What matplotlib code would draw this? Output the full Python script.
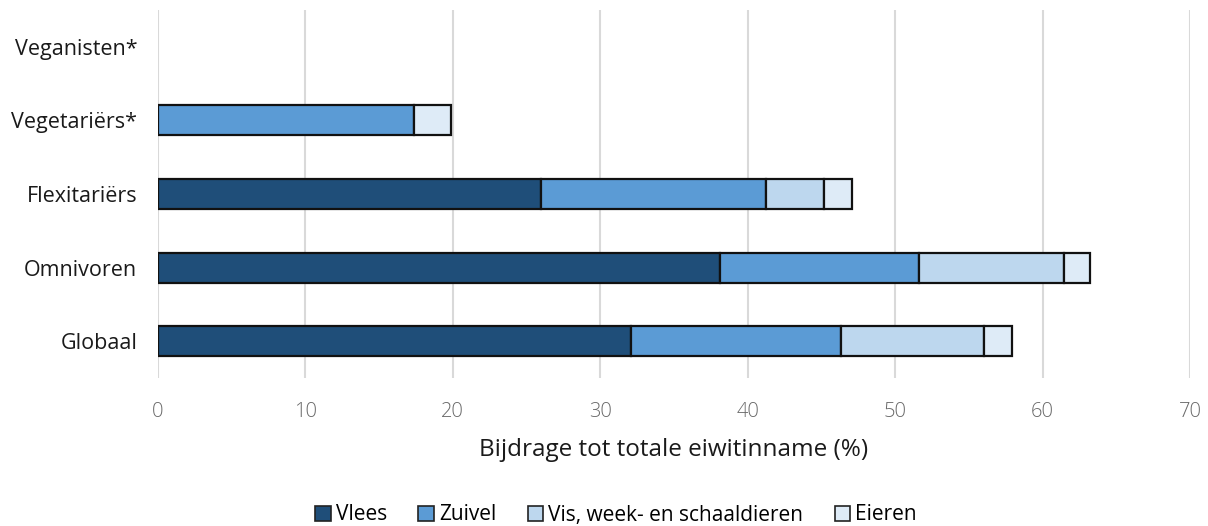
import matplotlib
matplotlib.use("Agg")
import matplotlib.pyplot as plt
import numpy as np
from matplotlib.patches import Patch

categories = ["Veganisten*", "Vegetariërs*", "Flexitariërs", "Omnivoren", "Globaal"]
series_names = ["Vlees", "Zuivel", "Vis, week- en schaaldieren", "Eieren"]
vlees = [0, 0, 25.96, 38.14, 32.07]
zuivel = [0, 17.34, 15.31, 13.45, 14.28]
vis = [0, 0, 3.89, 9.88, 9.69]
eieren = [0, 2.52, 1.91, 1.73, 1.86]
colors = ["#1F4E79", "#5B9BD5", "#BDD7EE", "#DEEBF7"]
xticks = [0, 10, 20, 30, 40, 50, 60, 70]

plt.rcParams['font.family'] = ['Open Sans', 'DejaVu Sans']

fig = plt.figure(figsize=(12.08, 5.26), dpi=100)
ax = fig.add_axes([158/1208, 1 - 378/526, (1190-158)/1208, (378-10)/526])

y = np.arange(len(categories))
left = np.zeros(len(categories))
for vals, name, c in zip([vlees, zuivel, vis, eieren], series_names, colors):
    v = np.array(vals, dtype=float)
    mask = v > 0
    ax.barh(y[mask], v[mask], left=left[mask], height=0.41, color=c,
            edgecolor="#111111", linewidth=1.6, zorder=3)
    left += v

ax.set_ylim(len(categories) - 0.5, -0.5)
ax.set_yticks(y)
ax.set_yticklabels(categories, fontsize=15.5, color="#1a1a1a")
ax.set_xlim(0, 70)
ax.set_xticks(xticks)
ax.set_xticklabels([str(t) for t in xticks], fontsize=14.5, color="#6a6a6a", fontweight="light")
ax.tick_params(axis="both", length=0)
ax.tick_params(axis="x", pad=17)
ax.tick_params(axis="y", pad=15)
for s in ax.spines.values():
    s.set_visible(False)
ax.grid(axis="x", color="#d9d9d9", linewidth=1.5, zorder=0)
ax.set_axisbelow(True)
ax.set_xlabel("Bijdrage tot totale eiwitinname (%)", fontsize=17.5, color="#1a1a1a", labelpad=12)

handles = [Patch(facecolor=c, edgecolor="#222222", linewidth=1.2, label=n) for n, c in zip(series_names, colors)]
fig.legend(handles=handles, loc="center", bbox_to_anchor=(616/1208, 1 - 515/526), ncol=4,
           frameon=False, fontsize=15, handlelength=0.75, handleheight=0.75, handletextpad=0.25,
           columnspacing=1.5)

fig.savefig("out.png", dpi=100)
